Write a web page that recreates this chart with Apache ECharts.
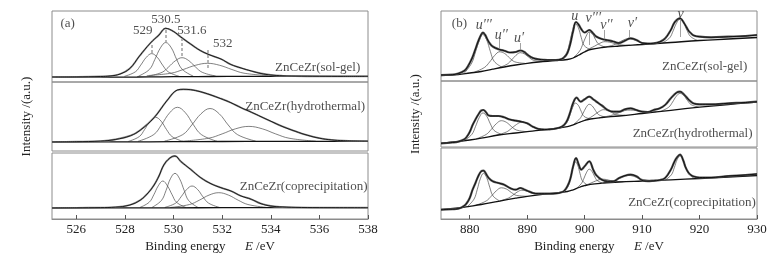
<!DOCTYPE html>
<html>
<head>
<meta charset="utf-8">
<script src="https://cdn.jsdelivr.net/npm/echarts@6/dist/echarts.min.js"></script>
<style>
  html, body { margin: 0; padding: 0; background: #fff; }
  #chart { width: 776px; height: 263px; }
</style>
</head>
<body>
<div id="chart"></div>
<script>
const sampleNames = ['ZnCeZr(sol-gel)', 'ZnCeZr(hydrothermal)', 'ZnCeZr(coprecipitation)'];

// ---- (a) O 1s, values are [binding energy, intensity] ----
const oSolEnv = [[525,5.0],[526,5.1],[527,5.5],[527.4,6],[527.8,8],[528.2,13.5],[528.6,26],[529.05,39],[529.4,47],[529.68,53.7],[530.0,50.5],[530.3,45],[530.7,38],[531.1,31.5],[531.5,27],[531.95,23],[532.36,17.5],[532.78,14],[533.2,11],[533.6,8.5],[534,7],[534.5,6.2],[535,5.9],[536,5.7],[537,5.6],[538,5.6]];
const oSolBg = [[525,4.8],[527,4.9],[528.5,5.0],[529.5,5.2],[530.5,5.4],[531.5,5.5],[533,5.6],[538,5.6]];
const oSolComps = [
  [[527.98,5.7],[528.43,10.2],[528.65,16.9],[528.88,24.7],[529.1,28.4],[529.33,24.7],[529.55,16.9],[529.78,10.2],[530.23,5.7]],
  [[528.56,5.9],[529.01,12.6],[529.23,22.5],[529.46,34.1],[529.68,39.5],[529.91,34.1],[530.13,22.5],[530.36,12.6],[530.81,5.9]],
  [[528.98,6.0],[529.53,9.7],[529.8,15.1],[530.08,21.3],[530.35,24.3],[530.63,21.3],[530.9,15.1],[531.18,9.7],[531.73,6.0]],
  [[528.9,6.4],[529.9,8.8],[530.4,12.5],[530.9,16.7],[531.4,18.7],[531.9,16.7],[532.4,12.5],[532.9,8.8],[533.9,6.4]]
];
const oHydroEnv = [[525,9.1],[526,9.3],[527,9.9],[527.6,11.5],[528.23,15.3],[528.64,21],[529.2,33.3],[529.75,51],[530.16,61],[530.4,61.7],[530.7,61.3],[531.1,59.3],[531.5,56.3],[531.95,52.3],[532.36,48.3],[532.78,43.3],[533.2,38.8],[533.6,34.3],[534,29.8],[534.5,24.3],[535,19.8],[535.5,15.8],[536,12.8],[536.5,11.1],[537,10.3],[538,9.8]];
const oHydroBg = [[525,9.0],[528,9.1],[530,9.3],[532,9.5],[534,9.6],[538,9.7]];
const oHydroComps = [
  [[528.14,9.6],[528.59,14.4],[528.81,21.5],[529.04,29.8],[529.26,33.7],[529.49,29.8],[529.71,21.5],[529.94,14.4],[530.39,9.6]],
  [[528.54,9.7],[529.19,16.5],[529.51,26.5],[529.84,38.2],[530.16,43.7],[530.49,38.2],[530.81,26.5],[531.14,16.5],[531.79,9.7]],
  [[529.63,9.9],[530.38,16.4],[530.75,26],[531.13,37.2],[531.5,42.5],[531.88,37.2],[532.25,26],[532.63,16.4],[533.38,9.9]],
  [[530.35,9.8],[531.45,12.8],[532.0,17.1],[532.55,22.2],[533.1,24.6],[533.65,22.2],[534.2,17.1],[534.75,12.8],[535.85,9.8]]
];
const oCoprecEnv = [[525,11.1],[526,11.2],[527,11.4],[527.6,11.8],[528.2,14],[528.64,19],[528.95,26],[529.2,34],[529.4,43],[529.6,54],[529.85,61],[530.06,63],[530.3,57.5],[530.7,49.7],[531.12,41.3],[531.54,35.3],[531.95,31.3],[532.36,28],[532.78,23],[533.2,19.7],[533.6,15.3],[534,13],[534.5,12],[535,11.6],[536,11.4],[538,11.3]];
const oCoprecBg = [[525,11.0],[528,11.1],[530,11.2],[532,11.3],[538,11.3]];
const oCoprecComps = [
  [[528.62,11.6],[529.0,16.8],[529.19,24.3],[529.37,33.1],[529.56,38],[529.75,33.1],[529.94,24.3],[530.12,16.8],[530.5,11.6]],
  [[529.12,11.7],[529.5,18.5],[529.69,28.5],[529.87,40.2],[530.06,45.7],[530.25,40.2],[530.44,28.5],[530.62,18.5],[531.0,11.7]],
  [[529.64,11.6],[530.09,15.9],[530.31,22.2],[530.54,29.5],[530.76,33],[530.99,29.5],[531.21,22.2],[531.44,15.9],[531.89,11.6]],
  [[529.86,11.5],[530.66,14.5],[531.06,18.8],[531.46,23.9],[531.86,26.3],[532.26,23.9],[532.66,18.8],[533.06,14.5],[533.86,11.5]]
];
const oPeakNames = ['529', '530.5', '531.6', '532'];
const oPeakAt = [[528.73,51],[529.68,62.7],[530.75,51.3],[532.02,38.7]];
const oGuides = [[529.1,37,27.5],[529.7,52,40],[530.35,44,24.5],[531.4,32,14]];
const oNameAt = [[537.7,14],[537.9,44.3],[538,32.3]];

// ---- (b) Ce 3d ----
const ceSolEnv = [[875,7],[877,7.3],[878,8.5],[879,11],[879.5,14],[880,19],[880.5,25],[881,33],[881.5,41],[882,47.5],[882.3,49.3],[882.7,47],[883,43.5],[883.5,38.5],[884,35.5],[885,32.8],[886,31.3],[887,29.5],[888,30],[888.8,31.5],[889.5,30],[890,27.5],[891,24],[892,22.7],[893,22.2],[894,22],[895,22],[896,23],[896.5,25],[897,29],[897.5,38],[898,51],[898.5,60],[899,57],[899.4,53],[900,49.5],[900.8,52],[901.5,48.5],[902,45.5],[903,43],[904,41.8],[905,40.5],[906,39],[907,41.3],[908,43.7],[909,42],[910,39],[911,38.5],[912,38.7],[913,40],[914,43.5],[915,52],[915.7,60],[916.6,63.7],[917.3,59],[918,52],[918.5,48.7],[919,46.5],[920,45.3],[922,44.7],[925,45.3],[928,46],[930,47]];
const ceSolBg = [[875,6.5],[878,7.5],[880,9],[882,10.5],[884,12.8],[886,15],[888,17],[890,18.7],[892,20],[895,21.3],[897,22.5],[898,24],[899,27],[900,30],[901,32.5],[903,34.5],[906,36],[910,37.5],[915,39.5],[920,41.5],[925,43],[930,44.5]];
const ceSolComps = [
  [[879.05,8.8],[880.35,19],[881.0,30],[881.65,41.1],[882.3,47.5],[882.95,42.2],[883.6,30.4],[884.25,20.7],[885.55,15.0]],
  [[880.83,9.9],[882.58,14.6],[883.45,19.9],[884.33,26.5],[885.2,30.2],[886.08,28.5],[886.95,24.0],[887.83,20.2],[889.58,18.7]],
  [[885.05,14.2],[886.55,18.0],[887.3,22.1],[888.05,26.7],[888.8,29.3],[889.55,28.0],[890.3,24.7],[891.05,21.8],[892.55,20.4]],
  [[895.9,22.2],[896.9,29.3],[897.4,39.5],[897.9,51.5],[898.4,58.2],[898.9,54.4],[899.4,44.7],[899.9,36.6],[900.9,32.6]],
  [[898.05,24.3],[899.15,31.2],[899.7,38.1],[900.25,45.7],[900.8,50.0],[901.35,48.2],[901.9,42.4],[902.45,37.8],[903.55,35.0]],
  [[899.13,27.5],[900.88,33.4],[901.75,35.9],[902.63,38.7],[903.5,40.3],[904.38,39.8],[905.25,38.4],[906.13,37.2],[907.88,36.8]],
  [[903.23,34.7],[904.98,36.9],[905.85,39.3],[906.73,41.9],[907.6,43.3],[908.48,42.5],[909.35,40.6],[910.23,39.0],[911.98,38.4]],
  [[913.6,39.3],[914.8,44.2],[915.4,51.1],[916.0,59.0],[916.6,62.8],[917.2,59.5],[917.8,52.0],[918.4,45.7],[919.6,41.6]]
];
const ceHydroEnv = [[875,5.7],[877,6.5],[878,7.3],[879,9.5],[879.5,12.3],[880,17],[880.5,24],[881,29.5],[881.5,34.5],[882,38.5],[882.4,39],[882.8,37],[883.3,33.5],[884,33],[885,33],[886,31.7],[887,29.5],[888,28.3],[889,27.3],[890,25.7],[891,22.3],[892,20],[893,19.5],[894,19.7],[895,20.5],[896,22.3],[896.5,24.5],[897,29],[897.5,37],[898,46],[898.6,51.3],[899.3,47.3],[900,49.7],[900.8,52.3],[901.5,49.7],[902,47.5],[903,43.5],[904,39],[905,37.3],[906,37.3],[907,39.7],[908,40.7],[909,39],[910,37.3],[911,37],[912,39],[913,40.5],[914,44],[915,50.7],[916,56.3],[916.6,57.3],[917.3,54.5],[918,50],[918.5,47.3],[919,45.5],[920,44.7],[922,44.7],[925,45.7],[928,46.5],[930,47.3]];
const ceHydroBg = [[875,5.7],[878,7.5],[880,9],[882,10.8],[885,14],[888,16],[890,17.3],[892,18.7],[895,20.5],[897,22.3],[898,24.2],[899,26.5],[900,28.5],[901,30],[903,31.5],[906,33],[910,35.5],[915,38.7],[920,41.8],[925,44.5],[930,47]];
const ceHydroComps = [
  [[879.05,8.5],[880.35,14.5],[881.0,22.4],[881.65,31.4],[882.3,36.1],[882.95,32.8],[883.6,25.0],[884.25,18.5],[885.55,14.7]],
  [[881.13,10.2],[882.88,14.6],[883.75,19.6],[884.63,25.3],[885.5,28.3],[886.38,26.7],[887.25,22.5],[888.13,19.0],[889.88,17.4]],
  [[884.63,13.7],[886.38,17.0],[887.25,20.5],[888.13,24.5],[889,26.7],[889.88,25.6],[890.75,22.8],[891.63,20.5],[893.38,19.6]],
  [[895.9,21.6],[896.9,26.5],[897.4,33.3],[897.9,41.4],[898.4,45.9],[898.9,43.7],[899.4,37.7],[899.9,32.6],[900.9,30.2]],
  [[898.05,24.5],[899.15,30.2],[899.7,35.4],[900.25,41.5],[900.8,44.7],[901.35,42.9],[901.9,38.3],[902.45,34.3],[903.55,32.0]],
  [[899.55,27.7],[901.05,31.7],[901.8,34.6],[902.55,37.6],[903.3,39.3],[904.05,38.5],[904.8,36.3],[905.55,34.4],[907.05,33.7]],
  [[902.5,31.2],[904.5,33.4],[905.5,35.3],[906.5,37.5],[907.5,38.9],[908.5,38.8],[909.5,37.7],[910.5,36.9],[912.5,37.2]],
  [[913.35,37.9],[914.65,41.9],[915.3,46.9],[915.95,52.7],[916.6,55.7],[917.25,53.5],[917.9,48.5],[918.55,44.3],[919.85,41.9]]
];
const ceCoprecEnv = [[875,9.3],[877,9.8],[878,10.3],[879,13],[879.5,16],[880,21],[880.5,29.3],[881,36],[881.5,43],[882,47.7],[882.4,48.3],[882.8,45.5],[883.3,41],[884,37.7],[885,36],[886,34.3],[887,31],[888,29.3],[888.8,31],[889.5,29.5],[890,28.3],[891,26],[892,25.3],[894,25.3],[895,25.5],[896,26.7],[896.5,28.5],[897,32.7],[897.5,40],[898,52.7],[898.5,61],[899,54],[899.4,49.3],[900,52.7],[900.8,57.7],[901.5,49.3],[902,44],[903,39.3],[904,37.7],[905,37.7],[906,41],[907,43.3],[908,44.3],[909,42.7],[910,38.7],[911,37.8],[912,38.2],[913,38.8],[914,41],[915,49.3],[915.6,57],[916,61],[916.6,64.3],[917.2,58],[917.5,52.7],[918,47],[918.5,44],[919,42.5],[920,41.5],[922,41.5],[925,43],[928,44],[930,45]];
const ceCoprecBg = [[875,9.3],[878,11],[880,12.7],[882,14.5],[885,17.7],[888,20.8],[890,22.7],[892,24.2],[895,26],[897,27.5],[898,29.2],[899,31.5],[900,33.3],[901,34.6],[903,35.8],[906,37],[910,38],[915,39.2],[920,40.5],[925,42],[930,43.5]];
const ceCoprecComps = [
  [[879.65,12.8],[880.75,19.9],[881.3,29.3],[881.85,40.3],[882.4,45.7],[882.95,41.4],[883.5,31.5],[884.05,23.1],[885.15,18.2]],
  [[881.13,13.9],[882.88,18.1],[883.75,22.8],[884.63,28.2],[885.5,31.2],[886.38,30.0],[887.25,26.5],[888.13,23.6],[889.88,22.8]],
  [[885.25,18.1],[886.75,21.0],[887.5,23.8],[888.25,26.9],[889,28.7],[889.75,28.3],[890.5,26.6],[891.25,25.2],[892.75,24.8]],
  [[896.4,27.4],[897.2,33.5],[897.6,42.0],[898.0,51.9],[898.4,57.1],[898.8,53.7],[899.2,45.4],[899.6,38.3],[900.4,34.3]],
  [[898.55,30.5],[899.45,35.6],[899.9,40.9],[900.35,46.8],[900.8,49.8],[901.25,47.9],[901.7,43.0],[902.15,38.7],[903.05,36.0]],
  [[899.25,32.2],[900.75,35.1],[901.5,37.0],[902.25,38.7],[903,39.8],[903.75,39.5],[904.5,38.4],[905.25,37.5],[906.75,37.3]],
  [[903.23,36.0],[904.98,37.9],[905.85,40.1],[906.73,42.4],[907.6,43.6],[908.48,42.8],[909.35,40.9],[910.23,39.4],[911.98,38.6]],
  [[914.1,39.3],[915.1,44.2],[915.6,51.2],[916.1,59.4],[916.6,63.3],[917.1,59.7],[917.6,51.8],[918.1,45.0],[919.1,40.6]]
];
const cePeakNames = ['u\u2032\u2032\u2032', 'u\u2032\u2032', 'u\u2032', 'u', 'v\u2032\u2032\u2032', 'v\u2032\u2032', 'v\u2032', 'v'];
const cePeakAt = [[882.45,57],[885.5,47],[888.6,43.7],[898.3,66],[901.5,63.7],[903.8,57],[908.3,58.7],[916.7,68]];
const ceGuides = [[885.2,43,30],[888.8,39,29.3],[900.8,50,37],[903.5,52,40],[907.8,52,43.5],[916.6,63.5,45]];
const ceNameAt = [[928.4,15.3],[929.3,15.7],[929.9,16.3]];

const serif = '"Liberation Serif", "DejaVu Serif", serif';
const frameColor = '#8c8c8c';

// sub-panel boxes (top, middle, bottom) for (a) and (b); yMin keeps 1 unit = 1 px
const cols = [
  { left: 52, min: 525, max: 538, split: 6, raw: { color: '#8a8a8a', width: 1.8 },
    rows: [{ top: 11, height: 71, yMin: 0 }, { top: 82, height: 69, yMin: 0 }, { top: 153, height: 66, yMin: 0 }] },
  { left: 441, min: 875, max: 930, split: 5, raw: { color: '#555', width: 2.2 },
    rows: [{ top: 11, height: 70, yMin: 1 }, { top: 81, height: 66, yMin: 2 }, { top: 148, height: 71, yMin: 0 }] }
];

const grid = [], xAxis = [], yAxis = [], series = [];

cols.forEach((c, ci) => {
  c.rows.forEach((r, ri) => {
    const gi = ci * 3 + ri;
    grid.push({
      left: c.left, width: 316, top: r.top, height: r.height,
      show: true, borderColor: frameColor, borderWidth: 1, backgroundColor: 'transparent'
    });
    const bottom = ri === 2;
    xAxis.push({
      type: 'value', gridIndex: gi, min: c.min, max: c.max, splitNumber: c.split,
      axisLine: { show: bottom, lineStyle: { color: frameColor } },
      axisTick: { show: bottom, inside: true, length: 4, lineStyle: { color: '#555' } },
      axisLabel: { show: bottom, showMinLabel: false, margin: 4, color: '#222', fontFamily: serif, fontSize: 13 },
      splitLine: { show: false },
      name: bottom ? 'Binding energy      {i|E} /eV' : '',
      nameLocation: 'middle', nameGap: 21,
      nameTextStyle: {
        color: '#222', fontFamily: serif, fontSize: 13,
        rich: { i: { fontStyle: 'italic', fontFamily: serif, fontSize: 13, color: '#222' } }
      }
    });
    yAxis.push({
      type: 'value', gridIndex: gi, min: r.yMin, max: r.yMin + r.height,
      axisLine: { show: false }, axisTick: { show: false }, axisLabel: { show: false }, splitLine: { show: false },
      name: ri === 1 ? 'Intensity /(a.u.)' : '',
      nameLocation: 'middle', nameGap: 19,
      nameTextStyle: { color: '#222', fontFamily: serif, fontSize: 13 }
    });
  });
});

function curve(data, gi, color, width, z) {
  return {
    type: 'line', xAxisIndex: gi, yAxisIndex: gi, data: data,
    showSymbol: false, symbol: 'none', smooth: 0.4, silent: true,
    lineStyle: { color: color, width: width }, z: z
  };
}

function textMarks(names, at, gi, pos, style) {
  return {
    type: 'scatter', xAxisIndex: gi, yAxisIndex: gi, symbolSize: 1, silent: true,
    itemStyle: { color: 'transparent' }, z: 10,
    data: names.map((n, i) => ({ name: n, value: at[i] })),
    label: Object.assign({
      show: true, formatter: '{b}', position: pos, distance: 0,
      color: '#222', fontFamily: serif, fontSize: 13
    }, style)
  };
}

function guideLines(guides, gi, lineStyle) {
  return {
    type: 'line', xAxisIndex: gi, yAxisIndex: gi, data: [], silent: true,
    markLine: {
      symbol: 'none', silent: true, label: { show: false }, lineStyle: lineStyle,
      data: guides.map(g => [{ coord: [g[0], g[1]] }, { coord: [g[0], g[2]] }])
    }
  };
}

const oSets = [[oSolEnv, oSolBg, oSolComps], [oHydroEnv, oHydroBg, oHydroComps], [oCoprecEnv, oCoprecBg, oCoprecComps]];
const ceSets = [[ceSolEnv, ceSolBg, ceSolComps], [ceHydroEnv, ceHydroBg, ceHydroComps], [ceCoprecEnv, ceCoprecBg, ceCoprecComps]];

[oSets, ceSets].forEach((sets, ci) => {
  sets.forEach((s, ri) => {
    const gi = ci * 3 + ri;
    s[2].forEach(comp => series.push(curve(comp, gi, '#4a4a4a', 0.7, 2)));
    series.push(curve(s[1], gi, '#111', 1.3, 3));
    series.push(curve(s[0], gi, cols[ci].raw.color, cols[ci].raw.width, 4)); // measured data
    series.push(curve(s[0], gi, '#000', 0.8, 5));                              // fitted envelope
    const at = ci === 0 ? oNameAt : ceNameAt;
    series.push(textMarks([sampleNames[ri]], [at[ri]], gi, 'left', {}));
  });
});

// panel letters and peak labels
series.push(textMarks(['(a)'], [[525.33, 58.7]], 0, 'right', {}));
series.push(textMarks(['(b)'], [[876.8, 58.7]], 3, 'right', {}));
series.push(textMarks(oPeakNames, oPeakAt, 0, 'inside', {}));
series.push(textMarks(cePeakNames, cePeakAt, 3, 'inside', { fontStyle: 'italic', fontSize: 14 }));
series.push(guideLines(oGuides, 0, { color: '#b5b5b5', width: 2, type: [3, 2] }));
series.push(guideLines(ceGuides, 3, { color: '#8a8a8a', width: 0.8, type: 'solid' }));

const chart = echarts.init(document.getElementById('chart'));
chart.setOption({
  animation: false,
  backgroundColor: '#fff',
  grid: grid,
  xAxis: xAxis,
  yAxis: yAxis,
  series: series
});
</script>
</body>
</html>
